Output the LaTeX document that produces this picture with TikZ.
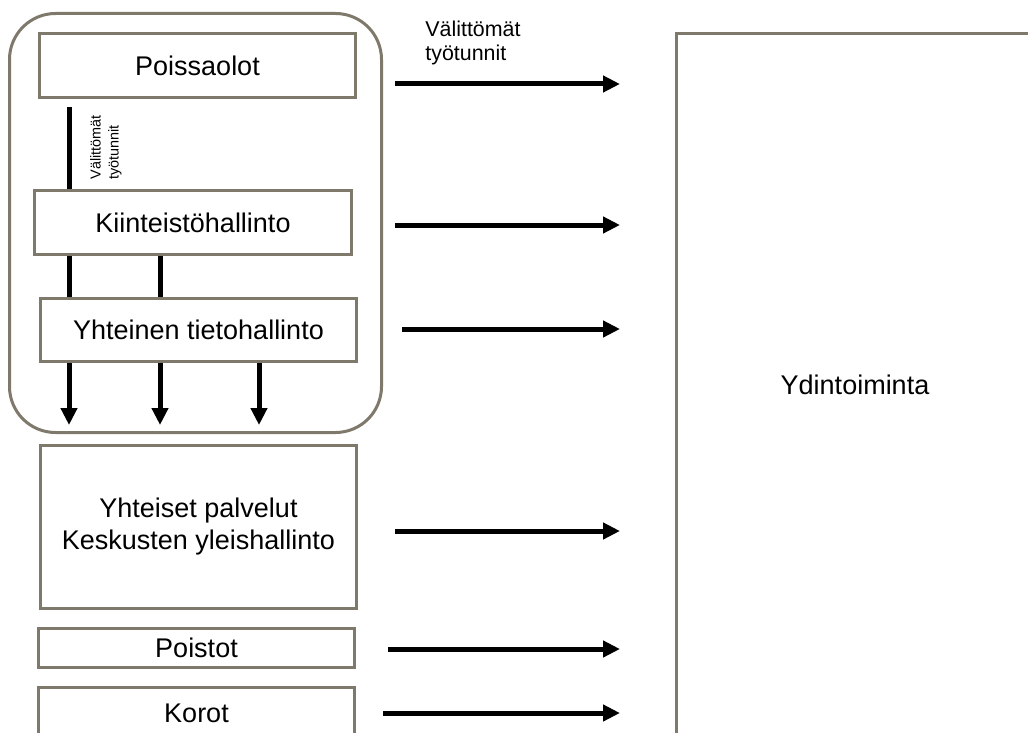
\documentclass[tikz,border=0pt]{standalone}
\usepackage{fontspec}
\setmainfont{Liberation Sans}
\usepackage{tikz}
\usetikzlibrary{arrows,arrows.meta,positioning}
\definecolor{boxgray}{RGB}{127,121,108}
\tikzset{
cost_box/.style={
	% The shape:
	rectangle,
	% The border:
	line width=1.5pt,
	draw=boxgray,
	% The filling:
	fill=white,
	% Font
	align=center,
	font=\fontsize{13.5}{16}\selectfont
},
group_box/.style={
	% The shape:
	rectangle,
	rounded corners=23pt,
	% The border:
	line width=1.5pt,
	draw=boxgray
},
flow/.style={
	% thick black connector
	line width=2.5pt,
	-{Triangle[length=8.5pt,width=8pt]}
},
link/.style={
	% same, without a tip
	line width=2.5pt
},
top_label/.style={
	align=left,
	inner sep=0pt,
	font=\fontsize{10.7}{12}\selectfont
},
side_label/.style={
	align=left,
	inner sep=0pt,
	rotate=90,
	font=\fontsize{7.2}{9}\selectfont
}
}
\begin{document}
\begin{tikzpicture}[x=0.5pt, y=-0.5pt, black, text=black]
	\useasboundingbox (0,0) rectangle (1028,733);
	\clip (0,0) rectangle (1028,733);
	% frame round the support functions
	\node[group_box, minimum width=186pt, minimum height=209.5pt] (grp) at (195.5,223) {};
	% cost boxes
	\node[cost_box, minimum width=158pt, minimum height=32pt] (pois) at (197.5,65.5) {Poissaolot};
	\node[cost_box, minimum width=158.5pt, minimum height=32pt] (kiin) at (193,222.5) {Kiinteistöhallinto};
	\node[cost_box, minimum width=158pt, minimum height=31.5pt] (yht) at (198.5,330) {Yhteinen tietohallinto};
	\node[cost_box, minimum width=158pt, minimum height=81.5pt] (palv) at (198.5,527) {Yhteiset palvelut\\Keskusten yleishallinto};
	\node[cost_box, minimum width=158pt, minimum height=19.5pt] (poist) at (196.5,648) {Poistot};
	\node[cost_box, minimum width=158pt, minimum height=25.5pt] (korot) at (196.5,713) {Korot};
	\node[cost_box, minimum width=178.5pt, minimum height=351.5pt] (ydin) at (855,385) {Ydintoiminta};
	% labels
	\node[top_label, anchor=west] (lbl_top) at (425,43) {Välittömät\\työtunnit};
	\node[side_label] (lbl_side) at (106,147.5) {Välittömät\\työtunnit};
	% columns of the vertical links
	\coordinate (c1) at (69,0);
	\coordinate (c2) at (160,0);
	\coordinate (c3) at (259,0);
	\draw[link, shorten <=4pt] (pois.south -| c1) -- (kiin.north -| c1);
	\draw[link] (kiin.south -| c1) -- (yht.north -| c1);
	\draw[link] (kiin.south -| c2) -- (yht.north -| c2);
	\foreach \c in {c1,c2,c3}
		\draw[flow, shorten >=4.5pt] (yht.south -| \c) -- (grp.south -| \c);
	% flows into the core
	\foreach \n/\sx/\ay in {pois/395/84, kiin/395/225, yht/402/329, palv/395/531, poist/388/649, korot/383/713} {
		\coordinate (\n_out) at (\sx,\ay);
		\draw[flow, shorten >=27.5pt] (\n_out) -- (\n_out -| ydin.west);
	}
\end{tikzpicture}
\end{document}
